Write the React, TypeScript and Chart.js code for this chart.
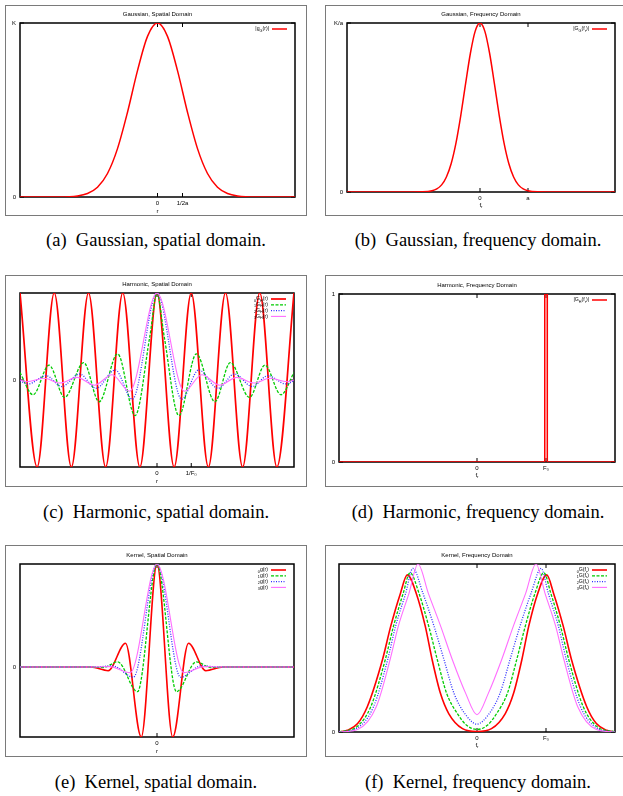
import React, { useEffect, useRef } from 'react';
import { Chart, registerables } from 'chart.js';

Chart.register(...registerables);

const SANS = '"Liberation Sans", Arial, Helvetica, sans-serif';
const SERIF = '"Liberation Serif", "Times New Roman", Times, serif';

const RED = '#ff0000';
const GREEN = '#00cc00';
const BLUE = '#2f2fff';
const PINK = '#ff6eff';

// ---------- (a) Gaussian, spatial domain ----------
const GA_X = [-2.75, -2.0, -1.6, -1.4, -1.2, -1.0, -0.8, -0.6, -0.4, -0.2, 0, 0.2, 0.4, 0.6, 0.8, 1.0, 1.2, 1.4, 1.6, 2.0, 2.75];
const GA_Y = [0, 0.0003, 0.006, 0.02, 0.056, 0.135, 0.278, 0.487, 0.726, 0.923, 1, 0.923, 0.726, 0.487, 0.278, 0.135, 0.056, 0.02, 0.006, 0.0003, 0];
const GA_XTICKS = [0, 0.5];
const GA_XLABELS = ['0', '1/2a'];
const GA_YTICKS = [0, 1];
const GA_YLABELS = ['0', 'K'];

// ---------- (b) Gaussian, frequency domain ----------
const GB_X = [-2.771, -1.4, -1.2, -1.0, -0.9, -0.8, -0.7, -0.6, -0.5, -0.4, -0.3, -0.2, -0.1, 0, 0.1, 0.2, 0.3, 0.4, 0.5, 0.6, 0.7, 0.8, 0.9, 1.0, 1.2, 1.4, 2.8125];
const GB_Y = [0, 0, 0.0008, 0.007, 0.018, 0.042, 0.089, 0.169, 0.291, 0.454, 0.641, 0.821, 0.952, 1, 0.952, 0.821, 0.641, 0.454, 0.291, 0.169, 0.089, 0.042, 0.018, 0.007, 0.0008, 0, 0];
const GB_XTICKS = [0, 1];
const GB_XLABELS = ['0', 'a'];
const GB_YTICKS = [0, 1];
const GB_YLABELS = ['0', 'K/a'];

// ---------- (c) Harmonic, spatial domain ----------
const HR_X = [-4, -3.5, -3, -2.5, -2, -1.5, -1, -0.5, 0, 0.5, 1, 1.5, 2, 2.5, 3, 3.5, 4];
const HR_Y = [1, -1, 1, -1, 1, -1, 1, -1, 1, -1, 1, -1, 1, -1, 1, -1, 1];
const HG_X = [-4, -3.62, -3.15, -2.7, -2.14, -1.69, -1.15, -0.64, -0.21, 0, 0.21, 0.64, 1.15, 1.69, 2.14, 2.7, 3.15, 3.62, 4];
const HG_Y = [0.085, -0.17, 0.17, -0.2, 0.2, -0.25, 0.3, -0.41, 0.5, 1, 0.5, -0.41, 0.3, -0.25, 0.2, -0.2, 0.17, -0.17, 0.085];
const HB_X = [-4, -3.76, -3.24, -2.78, -2.26, -1.78, -1.22, -0.72, 0, 0.72, 1.22, 1.78, 2.26, 2.78, 3.24, 3.76, 4];
const HB_Y = [-0.01, -0.045, 0.05, -0.075, 0.069, -0.095, 0.115, -0.22, 1, -0.22, 0.115, -0.095, 0.069, -0.075, 0.05, -0.045, -0.01];
const HP_X = [-4, -3.8, -3.3, -2.83, -2.33, -1.83, -1.31, -0.8, 0, 0.8, 1.31, 1.83, 2.33, 2.83, 3.3, 3.8, 4];
const HP_Y = [0, -0.02, 0.02, -0.035, 0.03, -0.06, 0.06, -0.13, 1, -0.13, 0.06, -0.06, 0.03, -0.035, 0.02, -0.02, 0];
const HC_XTICKS = [0, 1];
const HC_XLABELS = ['0', '1/F\u2080'];
const HC_YTICKS = [0];
const HC_YLABELS = ['0'];

// ---------- (d) Harmonic, frequency domain ----------
const HD_X = [-2, 0.981, 0.982, 1.018, 1.019, 2];
const HD_Y = [0, 0, 1, 1, 0, 0];
const HD_XTICKS = [0, 1];
const HD_XLABELS = ['0', 'F\u2080'];
const HD_YTICKS = [0, 1];
const HD_YLABELS = ['0', '1'];

// ---------- (e) Kernel, spatial domain ----------
const KR_X = [-4.35, -2.1, -1.55, -1.0, -0.5, 0, 0.5, 1.0, 1.55, 2.1, 4.35];
const KR_Y = [0, 0, -0.036, 0.23, -0.68, 1, -0.68, 0.23, -0.036, 0, 0];
const KG_X = [-4.35, -2.2, -1.7, -1.25, -0.62, 0, 0.62, 1.25, 1.7, 2.2, 4.35];
const KG_Y = [0, 0, -0.005, 0.05, -0.24, 1, -0.24, 0.05, -0.005, 0, 0];
const KB_X = [-4.35, -2.0, -1.4, -0.75, 0, 0.75, 1.4, 2.0, 4.35];
const KB_Y = [0, 0, 0.01, -0.1, 1, -0.1, 0.01, 0, 0];
const KP_X = [-4.35, -2.0, -1.5, -0.85, 0, 0.85, 1.5, 2.0, 4.35];
const KP_Y = [0, 0, 0.003, -0.055, 1, -0.055, 0.003, 0, 0];
const KE_XTICKS = [0];
const KE_XLABELS = ['0'];
const KE_YTICKS = [0];
const KE_YLABELS = ['0'];

// ---------- (f) Kernel, frequency domain ----------
const KFR_X = [-2, -1.88, -1.73, -1.59, -1.37, -1.25, -1.11, -1.01, -0.88, -0.75, -0.65, -0.53, -0.41, -0.21, 0, 0.21, 0.41, 0.53, 0.65, 0.75, 0.88, 1.01, 1.11, 1.25, 1.37, 1.59, 1.73, 1.88, 2];
const KFR_Y = [0, 0.01, 0.05, 0.15, 0.43, 0.63, 0.825, 0.935, 0.825, 0.63, 0.43, 0.23, 0.11, 0.02, 0.003, 0.02, 0.11, 0.23, 0.43, 0.63, 0.825, 0.935, 0.825, 0.63, 0.43, 0.15, 0.05, 0.01, 0];
const KFG_X = [-2, -1.73, -1.54, -1.33, -1.21, -1.07, -0.97, -0.84, -0.7, -0.575, -0.44, -0.285, -0.15, 0, 0.15, 0.285, 0.44, 0.575, 0.7, 0.84, 0.97, 1.07, 1.21, 1.33, 1.54, 1.73, 2];
const KFG_Y = [0, 0.035, 0.15, 0.43, 0.63, 0.825, 0.948, 0.825, 0.63, 0.43, 0.23, 0.11, 0.04, 0.015, 0.04, 0.11, 0.23, 0.43, 0.63, 0.825, 0.948, 0.825, 0.63, 0.43, 0.15, 0.035, 0];
const KFB_X = [-2, -1.73, -1.5, -1.295, -1.18, -1.034, -0.93, -0.783, -0.623, -0.478, -0.333, -0.16, 0, 0.16, 0.333, 0.478, 0.623, 0.783, 0.93, 1.034, 1.18, 1.295, 1.5, 1.73, 2];
const KFB_Y = [0, 0.025, 0.15, 0.43, 0.63, 0.825, 0.974, 0.825, 0.63, 0.43, 0.23, 0.1, 0.047, 0.1, 0.23, 0.43, 0.63, 0.825, 0.974, 0.825, 0.63, 0.43, 0.15, 0.025, 0];
const KFP_X = [-2, -1.73, -1.46, -1.26, -1.14, -0.986, -0.855, -0.705, -0.527, -0.357, -0.164, 0, 0.164, 0.357, 0.527, 0.705, 0.855, 0.986, 1.14, 1.26, 1.46, 1.73, 2];
const KFP_Y = [0, 0.015, 0.15, 0.43, 0.63, 0.825, 1.0, 0.825, 0.63, 0.43, 0.23, 0.103, 0.23, 0.43, 0.63, 0.825, 1.0, 0.825, 0.63, 0.43, 0.15, 0.015, 0];
const KF_XTICKS = [0, 1];
const KF_XLABELS = ['0', 'F\u2080'];
const KF_YTICKS = [0];
const KF_YLABELS = ['0'];

type Seg = { t: string; sub?: boolean };
type Series = { xs: number[]; ys: number[]; color: string; width: number; dash: number[]; label: Seg[]; smooth: boolean };
type PanelCfg = {
  box: [number, number, number, number];
  plot: [number, number, number, number];
  xMin: number; xMax: number; yMin: number; yMax: number;
  xTicks: number[]; xLabels: string[]; yTicks: number[]; yLabels: string[];
  title: string; xTitle: Seg[]; xTitleOff: number;
  series: Series[];
  caption: string; capX: number; capY: number;
};

const S = (t: string, sub = false): Seg => ({ t, sub });
const FR: Seg[] = [S('f'), S('r', true)];

const PANELS: PanelCfg[] = [
  {
    box: [5, 5, 302, 211], plot: [20, 23, 295, 197],
    xMin: -2.75, xMax: 2.75, yMin: 0, yMax: 1,
    xTicks: GA_XTICKS, xLabels: GA_XLABELS, yTicks: GA_YTICKS, yLabels: GA_YLABELS,
    title: 'Gaussian, Spatial Domain', xTitle: [S('r')], xTitleOff: 14.7,
    series: [{ xs: GA_X, ys: GA_Y, color: RED, width: 1.5, dash: [], label: [S('|g'), S('G', true), S('(r)|')], smooth: true }],
    caption: '(a)\u2002Gaussian, spatial domain.', capX: 156, capY: 240,
  },
  {
    box: [325, 5, 310, 211], plot: [347, 23, 615, 192],
    xMin: -2.771, xMax: 2.8125, yMin: 0, yMax: 1,
    xTicks: GB_XTICKS, xLabels: GB_XLABELS, yTicks: GB_YTICKS, yLabels: GB_YLABELS,
    title: 'Gaussian, Frequency Domain', xTitle: FR, xTitleOff: 13,
    series: [{ xs: GB_X, ys: GB_Y, color: RED, width: 1.5, dash: [], label: [S('|G'), S('G', true), S('(f'), S('r', true), S(')|')], smooth: true }],
    caption: '(b)\u2002Gaussian, frequency domain.', capX: 478, capY: 240,
  },
  {
    box: [5, 275, 302, 212], plot: [20, 293, 294, 467],
    xMin: -4, xMax: 4, yMin: -1, yMax: 1,
    xTicks: HC_XTICKS, xLabels: HC_XLABELS, yTicks: HC_YTICKS, yLabels: HC_YLABELS,
    title: 'Harmonic, Spatial Domain', xTitle: [S('r')], xTitleOff: 14.7,
    series: [
      { xs: HR_X, ys: HR_Y, color: RED, width: 1.7, dash: [], label: [S('0', true), S('G'), S('H', true), S('(r)')], smooth: true },
      { xs: HG_X, ys: HG_Y, color: GREEN, width: 1.3, dash: [3, 1.5], label: [S('1', true), S('G'), S('H', true), S('(r)')], smooth: true },
      { xs: HB_X, ys: HB_Y, color: BLUE, width: 1.3, dash: [1, 1.5], label: [S('2', true), S('G'), S('H', true), S('(r)')], smooth: true },
      { xs: HP_X, ys: HP_Y, color: PINK, width: 1.1, dash: [], label: [S('3', true), S('G'), S('H', true), S('(r)')], smooth: true },
    ],
    caption: '(c)\u2002Harmonic, spatial domain.', capX: 156, capY: 512,
  },
  {
    box: [325, 275, 310, 212], plot: [339, 294, 615, 462],
    xMin: -2, xMax: 2, yMin: 0, yMax: 1,
    xTicks: HD_XTICKS, xLabels: HD_XLABELS, yTicks: HD_YTICKS, yLabels: HD_YLABELS,
    title: 'Harmonic, Frequency Domain', xTitle: FR, xTitleOff: 13,
    series: [{ xs: HD_X, ys: HD_Y, color: RED, width: 1.5, dash: [], label: [S('|G'), S('H', true), S('(f'), S('r', true), S(')|')], smooth: false }],
    caption: '(d)\u2002Harmonic, frequency domain.', capX: 478, capY: 512,
  },
  {
    box: [5, 545, 302, 212], plot: [20, 564, 294, 737],
    xMin: -4.35, xMax: 4.35, yMin: -0.68, yMax: 1,
    xTicks: KE_XTICKS, xLabels: KE_XLABELS, yTicks: KE_YTICKS, yLabels: KE_YLABELS,
    title: 'Kernel, Spatial Domain', xTitle: [S('r')], xTitleOff: 14.7,
    series: [
      { xs: KR_X, ys: KR_Y, color: RED, width: 1.6, dash: [], label: [S('0', true), S('g(r)')], smooth: true },
      { xs: KG_X, ys: KG_Y, color: GREEN, width: 1.3, dash: [3, 1.5], label: [S('1', true), S('g(r)')], smooth: true },
      { xs: KB_X, ys: KB_Y, color: BLUE, width: 1.3, dash: [1, 1.5], label: [S('2', true), S('g(r)')], smooth: true },
      { xs: KP_X, ys: KP_Y, color: PINK, width: 1.1, dash: [], label: [S('3', true), S('g(r)')], smooth: true },
    ],
    caption: '(e)\u2002Kernel, spatial domain.', capX: 156, capY: 782,
  },
  {
    box: [325, 545, 310, 212], plot: [339, 564, 615, 732],
    xMin: -2, xMax: 2, yMin: 0, yMax: 1,
    xTicks: KF_XTICKS, xLabels: KF_XLABELS, yTicks: KF_YTICKS, yLabels: KF_YLABELS,
    title: 'Kernel, Frequency Domain', xTitle: FR, xTitleOff: 13,
    series: [
      { xs: KFR_X, ys: KFR_Y, color: RED, width: 1.6, dash: [], label: [S('0', true), S('G(f'), S('r', true), S(')')], smooth: true },
      { xs: KFG_X, ys: KFG_Y, color: GREEN, width: 1.3, dash: [3, 1.5], label: [S('1', true), S('G(f'), S('r', true), S(')')], smooth: true },
      { xs: KFB_X, ys: KFB_Y, color: BLUE, width: 1.3, dash: [1, 1.5], label: [S('2', true), S('G(f'), S('r', true), S(')')], smooth: true },
      { xs: KFP_X, ys: KFP_Y, color: PINK, width: 1.1, dash: [], label: [S('3', true), S('G(f'), S('r', true), S(')')], smooth: true },
    ],
    caption: '(f)\u2002Kernel, frequency domain.', capX: 478, capY: 782,
  },
];

function drawRich(ctx: CanvasRenderingContext2D, segs: Seg[], x: number, y: number, align: 'left' | 'center' | 'right', size: number) {
  const parts = segs.map((s) => {
    const fs = s.sub ? size * 0.72 : size;
    ctx.font = `${fs}px ${SANS}`;
    return { s, fs, w: ctx.measureText(s.t).width };
  });
  const total = parts.reduce((a, p) => a + p.w, 0);
  let cx = align === 'center' ? x - total / 2 : align === 'right' ? x - total : x;
  ctx.textBaseline = 'middle';
  ctx.textAlign = 'left';
  ctx.fillStyle = '#000';
  for (const p of parts) {
    ctx.font = `${p.fs}px ${SANS}`;
    ctx.fillText(p.s.t, cx, y + (p.s.sub ? size * 0.3 : 0));
    cx += p.w;
  }
}

function makePlugin(cfg: PanelCfg) {
  return {
    id: 'gnuplotLook',
    beforeDatasetsDraw(chart: any) {
      const { ctx, chartArea: a, scales } = chart;
      ctx.save();
      ctx.strokeStyle = '#000';
      ctx.lineWidth = 1.5;
      ctx.setLineDash([]);
      ctx.strokeRect(a.left, a.top, a.right - a.left, a.bottom - a.top);
      ctx.lineWidth = 1;
      ctx.beginPath();
      cfg.xTicks.forEach((v) => {
        const px = scales.x.getPixelForValue(v);
        ctx.moveTo(px, a.bottom); ctx.lineTo(px, a.bottom - 4);
        ctx.moveTo(px, a.top); ctx.lineTo(px, a.top + 4);
      });
      cfg.yTicks.forEach((v) => {
        const py = scales.y.getPixelForValue(v);
        ctx.moveTo(a.left, py); ctx.lineTo(a.left + 4, py);
        ctx.moveTo(a.right, py); ctx.lineTo(a.right - 4, py);
      });
      ctx.stroke();
      ctx.restore();
    },
    afterDraw(chart: any) {
      const { ctx, chartArea: a } = chart;
      ctx.save();
      const cxm = (a.left + a.right) / 2;
      drawRich(ctx, [S(cfg.title)], cxm, a.top - 8.5, 'center', 6);
      drawRich(ctx, cfg.xTitle, cxm, a.bottom + cfg.xTitleOff, 'center', 6);
      cfg.series.forEach((s, i) => {
        const y = a.top + 6 + i * 5.8;
        drawRich(ctx, s.label, a.right - 26, y, 'right', 5.2);
        ctx.strokeStyle = s.color;
        ctx.lineWidth = s.width;
        ctx.setLineDash(s.dash);
        ctx.beginPath();
        ctx.moveTo(a.right - 23, y);
        ctx.lineTo(a.right - 8, y);
        ctx.stroke();
      });
      ctx.restore();
    },
  };
}

function Panel({ cfg }: { cfg: PanelCfg }) {
  const ref = useRef<HTMLCanvasElement | null>(null);
  const [bx, by, bw, bh] = cfg.box;
  const cw = Math.min(bw, 623 - bx);
  const ch = bh;
  const [pl, pt, pr, pb] = cfg.plot;
  useEffect(() => {
    if (!ref.current) return;
    const yW = pl - bx;
    const padTop = pt - by;
    const padRight = bx + cw - pr;
    const xH = by + ch - pb;
    const tickFont = { family: SANS, size: 6 };
    const chart = new Chart(ref.current, {
      type: 'line',
      data: {
        datasets: cfg.series.map((s, i) => ({
          data: s.xs.map((x, k) => ({ x, y: s.ys[k] })),
          borderColor: s.color,
          borderWidth: s.width,
          borderDash: s.dash,
          pointRadius: 0,
          fill: false,
          cubicInterpolationMode: s.smooth ? 'monotone' : 'default',
          tension: 0,
          order: -i,
        })),
      },
      options: {
        responsive: false,
        maintainAspectRatio: false,
        animation: false,
        events: [],
        layout: { padding: { left: 0, top: padTop, right: padRight, bottom: 0 } },
        plugins: { legend: { display: false }, title: { display: false }, tooltip: { enabled: false } },
        scales: {
          x: {
            type: 'linear', min: cfg.xMin, max: cfg.xMax,
            grid: { display: false, drawTicks: false, tickLength: 0 }, border: { display: false },
            afterBuildTicks: (sc: any) => { sc.ticks = cfg.xTicks.map((v) => ({ value: v })); },
            afterFit: (sc: any) => { sc.height = xH; },
            ticks: { autoSkip: false, maxRotation: 0, padding: 3, color: '#000', font: tickFont, callback: (_v: any, i: number) => cfg.xLabels[i] },
          },
          y: {
            type: 'linear', min: cfg.yMin, max: cfg.yMax,
            grid: { display: false, drawTicks: false, tickLength: 0 }, border: { display: false },
            afterBuildTicks: (sc: any) => { sc.ticks = cfg.yTicks.map((v) => ({ value: v })); },
            afterFit: (sc: any) => { sc.width = yW; },
            ticks: { autoSkip: false, padding: 4, color: '#000', font: tickFont, callback: (_v: any, i: number) => cfg.yLabels[i] },
          },
        },
      } as any,
      plugins: [makePlugin(cfg) as any],
    });
    return () => chart.destroy();
  }, []);
  return (
    <>
      <div style={{ position: 'absolute', left: bx, top: by, width: bw, height: bh, border: '1px solid #7a7a7a', boxSizing: 'border-box' }} />
      <canvas ref={ref} width={cw} height={ch} style={{ position: 'absolute', left: bx, top: by, width: cw, height: ch }} />
      <div style={{ position: 'absolute', left: cfg.capX - 160, top: cfg.capY - 11, width: 320, height: 22, lineHeight: '22px', textAlign: 'center', fontFamily: SERIF, fontSize: '18.5px', color: '#000', whiteSpace: 'nowrap' }}>
        {cfg.caption}
      </div>
    </>
  );
}

export default function App() {
  return (
    <div style={{ position: 'absolute', left: 0, top: 0, width: 623, height: 796, overflow: 'hidden', background: '#fff' }}>
      {PANELS.map((p, i) => <Panel key={i} cfg={p} />)}
    </div>
  );
}
